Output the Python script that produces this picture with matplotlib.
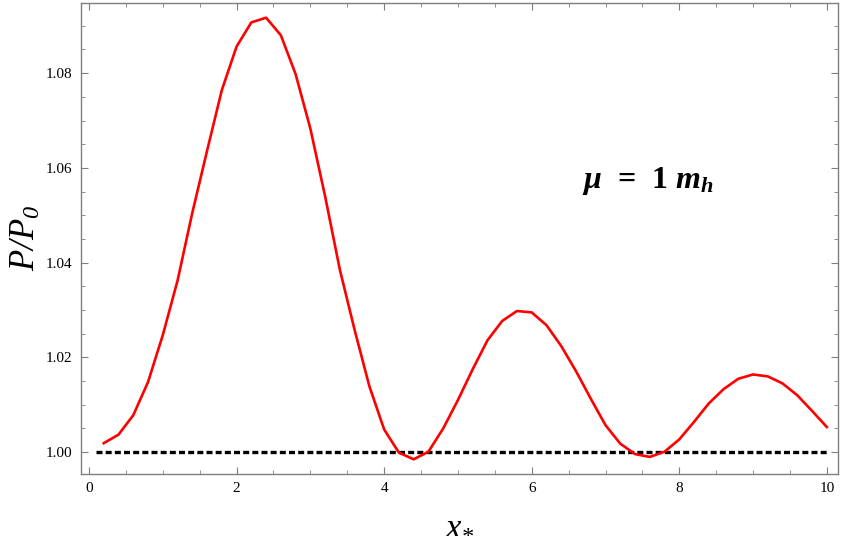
import numpy as np
import matplotlib
matplotlib.use("Agg")
import matplotlib.pyplot as plt
from matplotlib.ticker import MultipleLocator

plt.rcParams['font.family'] = 'Liberation Serif'
plt.rcParams['mathtext.fontset'] = 'custom'
plt.rcParams['mathtext.rm'] = 'Liberation Serif:italic'
plt.rcParams['mathtext.it'] = 'Liberation Serif:italic'
plt.rcParams['mathtext.bf'] = 'Liberation Serif:bold:italic'

# data
x_star = [0.2, 0.4, 0.6, 0.8, 1.0, 1.2, 1.4, 1.6, 1.8, 2.0,
          2.2, 2.4, 2.6, 2.8, 3.0, 3.2, 3.4, 3.6, 3.8, 4.0,
          4.2, 4.4, 4.6, 4.8, 5.0, 5.2, 5.4, 5.6, 5.8, 6.0,
          6.2, 6.4, 6.6, 6.8, 7.0, 7.2, 7.4, 7.6, 7.8, 8.0,
          8.2, 8.4, 8.6, 8.8, 9.0, 9.2, 9.4, 9.6, 9.8, 10.0]
ratio = [1.0019, 1.0037, 1.0078, 1.0148, 1.0247, 1.0362, 1.0505, 1.0636, 1.0764, 1.0856,
         1.0907, 1.0917, 1.0880, 1.0798, 1.0683, 1.0540, 1.0385, 1.0258, 1.0139, 1.0048,
         0.9999, 0.9985, 1.0001, 1.0050, 1.0110, 1.0175, 1.0236, 1.0277, 1.0298, 1.0295,
         1.0268, 1.0224, 1.0171, 1.0113, 1.0057, 1.0018, 0.9996, 0.9990, 1.0001, 1.0027,
         1.0064, 1.0103, 1.0133, 1.0155, 1.0164, 1.0160, 1.0145, 1.0120, 1.0087, 1.0053]
ref_x = [0.1, 10.0]
ref_y = [1.0, 1.0]

fig = plt.figure(figsize=(8.43, 5.46), dpi=100)
ax = fig.add_axes([0.0961, 0.1319, 0.8979, 0.8626])

ax.plot(ref_x, ref_y, color='black', lw=2.4, linestyle=(0, (1.8, 0.95)))
ax.plot(x_star, ratio, color='#ff0000', lw=1.9)

ax.set_xlim(-0.108, 10.15)
ax.set_ylim(0.9954, 1.0948)

ax.xaxis.set_major_locator(MultipleLocator(2))
ax.xaxis.set_minor_locator(MultipleLocator(0.5))
ax.yaxis.set_major_locator(MultipleLocator(0.02))
ax.yaxis.set_minor_locator(MultipleLocator(0.005))
ax.yaxis.set_major_formatter(matplotlib.ticker.FormatStrFormatter('%.2f'))

gray = '#7f7f7f'
for s in ax.spines.values():
    s.set_color(gray)
    s.set_linewidth(1.0)
ax.tick_params(which='both', direction='in', top=True, right=True,
               color=gray, labelsize=11, labelcolor='black')
ax.tick_params(which='major', length=5, width=0.8, pad=6)
ax.tick_params(which='minor', length=3, width=0.6)

fig.text(0.031, 0.565, r'$P/P_0$', fontsize=25, rotation=90, ha='center', va='center')
fig.text(0.546, 0.04, r'$x_{*}$', fontsize=25, ha='center', va='center')
ax.text(6.68, 1.0572, r'$\mathbf{\mu}$  =  1 $\mathbf{m_h}$', fontsize=23,
        fontweight='bold', ha='left', va='center')

fig.savefig('out.png', dpi=100)
